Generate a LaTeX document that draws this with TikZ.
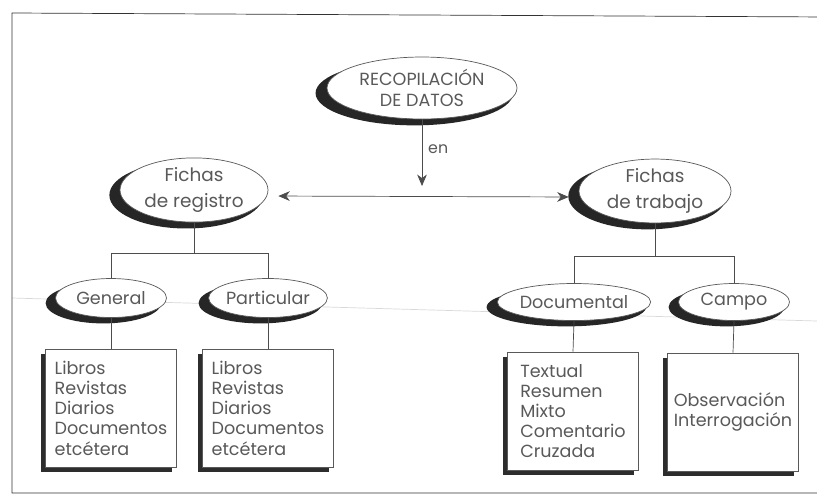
\documentclass[tikz,border=0pt]{standalone}
\usepackage{fontspec}
\setmainfont{Poppins}
\usetikzlibrary{shapes.geometric,shadows,arrows.meta,positioning}

\tikzset{
  rama/.style={ellipse, draw=gray!70!black, thin, fill=white, inner sep=0pt, align=center,
    text=gray!70!black, font=\fontsize{10}{12.4}\selectfont,
    general shadow={fill=gray!30!black, shadow xshift=-4.2pt, shadow yshift=-2.8pt, shadow scale=1.04}},
  caja/.style={rectangle, draw=gray!70!black, thin, fill=white, align=left,
    minimum width=2.62cm, minimum height=2.36cm, text=gray!70!black,
    font=\fontsize{10}{11.5}\selectfont,
    general shadow={fill=gray!35!black, shadow xshift=-2.8pt, shadow yshift=-2.8pt}},
  linea/.style={draw=gray!60!black, thin},
  flecha/.style={linea, -{Stealth[length=6.5pt,width=5.5pt,inset=2pt]}},
  dobleflecha/.style={linea, {Stealth[length=6.5pt,width=5.5pt,inset=2pt]}-{Stealth[length=6.5pt,width=5.5pt,inset=2pt]}},
}

\begin{document}
\begin{tikzpicture}[x=0.02cm,y=-0.02cm]
  \clip (0,0) rectangle (817,498);
  % marco y pliegue
  \fill[white] (0,0) rectangle (817,498);
  \draw[gray!30, thin] (12,298) -- (817,321);
  \draw[gray!40!black, thin] (830,17) -- (12,13) -- (12,493) -- (830,493);

  % nodos
  \node[rama, minimum width=3.8cm, minimum height=1.24cm] (root) at (422,88) {RECOPILACIÓN\\DE DATOS};
  \node[rama, minimum width=2.96cm, minimum height=1.12cm, font=\fontsize{10.5}{15}\selectfont] (registro) at (194,190) {Fichas\\de registro};
  \node[rama, minimum width=3.04cm, minimum height=1.08cm, font=\fontsize{10.5}{15}\selectfont] (trabajo) at (655,191) {Fichas\\de trabajo};

  \node[rama, minimum width=2.22cm, minimum height=0.78cm] (general) at (111,298) {General};
  \node[rama, minimum width=2.16cm, minimum height=0.78cm] (particular) at (268,298) {Particular};
  \node[rama, minimum width=2.68cm, minimum height=0.74cm] (documental) at (574,302) {Documental};
  \node[rama, minimum width=2.22cm, minimum height=0.74cm] (campo) at (734,302) {Campo};

  \node[caja] (libros1) at (111,408) {Libros\\Revistas\\Diarios\\Documentos\\etcétera};
  \node[caja] (libros2) at (268,408) {Libros\\Revistas\\Diarios\\Documentos\\etcétera};
  \node[caja] (tipos) at (573,411) {Textual\\Resumen\\Mixto\\Comentario\\Cruzada};
  \node[caja] (campos) at (733,412) {Observación\\Interrogación};

  % flechas
  \coordinate (baja) at (422,186);
  \draw[flecha] (root.south) -- node[right, pos=0.45, text=gray!70!black, font=\fontsize{9}{10}\selectfont] (en) {en} (baja);
  \draw[dobleflecha, shorten <=0.2cm, shorten >=0.2cm]
    ([yshift=-0.12cm]registro.east) -- ([yshift=-0.12cm]trabajo.west);

  % ramas
  \coordinate (jl) at (194,253);
  \coordinate (jr) at (655,256);
  \draw[linea] (registro.south) -- (jl);
  \draw[linea] (general.north) |- (jl) -| (particular.north);
  \draw[linea] (trabajo.south) -- (jr);
  \draw[linea] (documental.north) |- (jr) -| (campo.north);
  \foreach \a/\b in {general/libros1, particular/libros2, documental/tipos, campo/campos}
    \draw[linea] (\a.south) -- (\b.north);
\end{tikzpicture}
\end{document}
